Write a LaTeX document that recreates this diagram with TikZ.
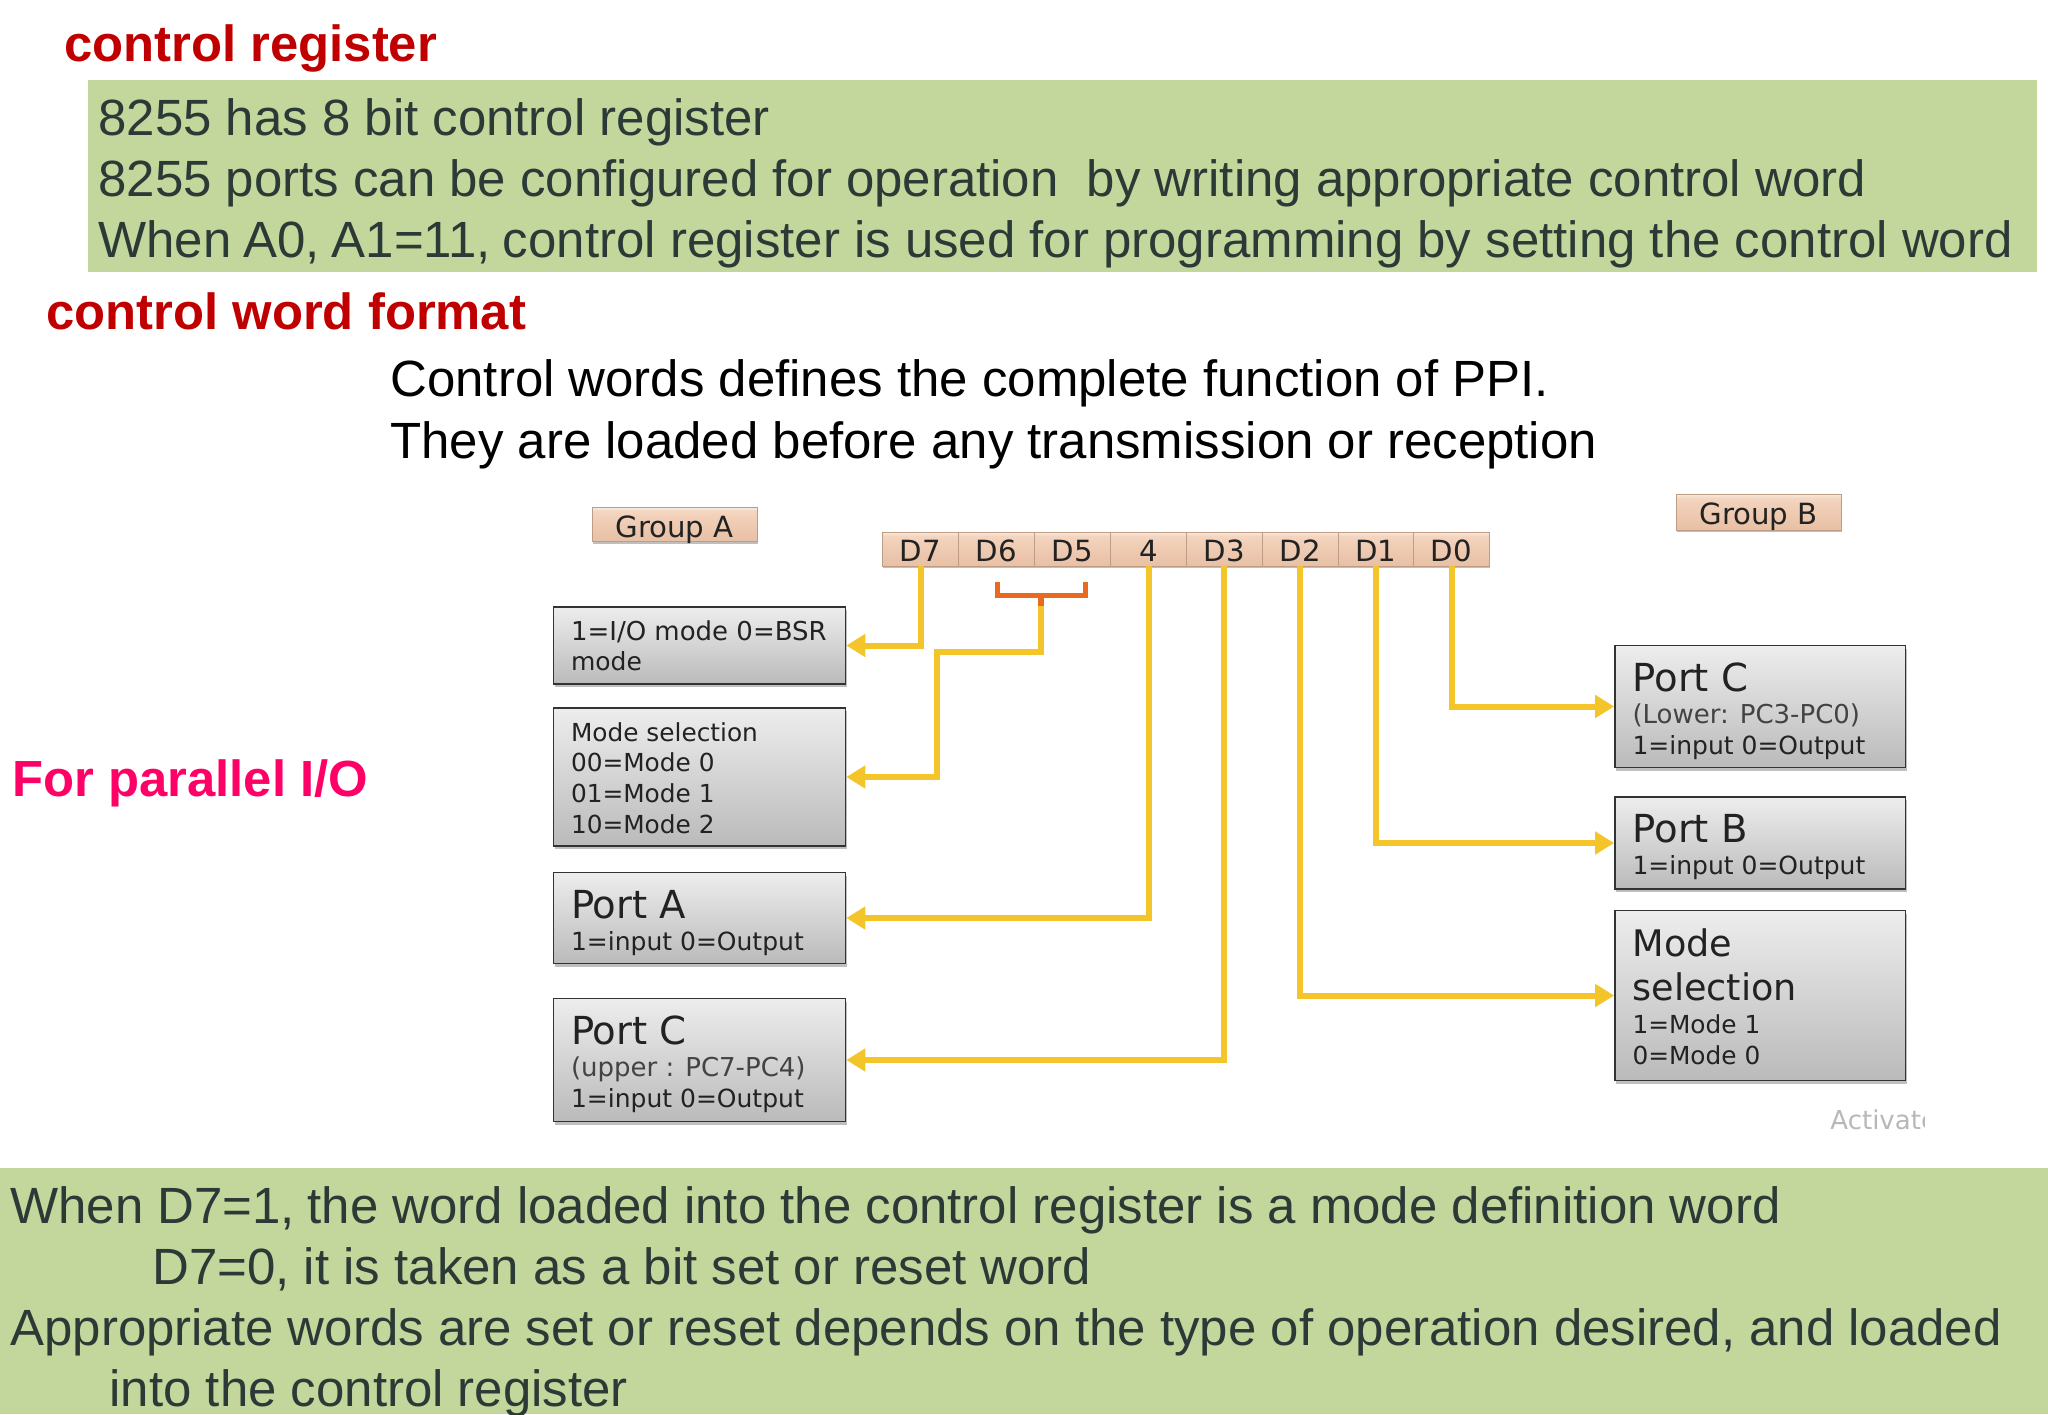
\documentclass[tikz,border=0pt]{standalone}
\usepackage{fontspec}
\setmainfont{Liberation Sans}
\newfontfamily\boxfont{DejaVu Sans}
\usetikzlibrary{arrows.meta,shadows,calc}
\definecolor{bandgreen}{HTML}{C3D69B}
\definecolor{bandtext}{HTML}{2B3A36}
\definecolor{headred}{HTML}{C00000}
\definecolor{pinkhead}{HTML}{FF0066}
\definecolor{wire}{HTML}{F4C52B}
\definecolor{bracket}{HTML}{E9691E}
\definecolor{boxtext}{HTML}{222222}
\definecolor{chipa}{HTML}{E8C0A4}
\definecolor{chipb}{HTML}{F1CFB8}
\definecolor{chipc}{HTML}{F4D6C1}
\definecolor{chipd}{HTML}{F9ECE2}
\pgfdeclareverticalshading{chipshade}{100bp}{color(0bp)=(chipa); color(25bp)=(chipa); color(60bp)=(chipb); color(70bp)=(chipc); color(75bp)=(chipd); color(100bp)=(chipd)}
\newcommand{\bt}[4]{\vbox to #2{\hsize=#1\relax\parindent=0pt\leftskip=8.75pt\rightskip=0pt plus 1fil\lineskiplimit=-100pt\parskip=0pt\boxfont\color{boxtext}\fontsize{12.5pt}{15.4pt}\selectfont\baselineskip=15.4pt\noindent\rule{0pt}{#3}#4\par\vss}}
\newcommand{\bighead}[1]{{\fontsize{19.3pt}{15.4pt}\selectfont #1}}
\newcommand{\midline}[1]{{\fontsize{13pt}{15.4pt}\selectfont\color{boxtext!85!white} #1}}
\newcommand{\sz}[2]{{\fontsize{#1}{15.4pt}\selectfont #2}}
\tikzset{
  x=0.5pt,y=-0.5pt,
  bandbox/.style={fill=bandgreen,draw=none},
  head/.style={anchor=base west,inner sep=0pt,font=\fontsize{25.4pt}{30pt}\selectfont\bfseries,text=headred},
  bandlines/.style={anchor=north west,inner sep=0pt,align=left,text=bandtext,font=\fontsize{25.48pt}{30.6pt}\selectfont},
  plainlines/.style={anchor=north west,inner sep=0pt,align=left,text=black,font=\fontsize{25.48pt}{30.6pt}\selectfont},
  greybox/.style={inner sep=0pt,draw=black!80,line width=0.8pt,top color=black!7,bottom color=black!27,
    drop shadow={shadow xshift=0.5pt,shadow yshift=-1.5pt,opacity=0.25,fill=black}},
  chip/.style={inner sep=0pt,minimum height=17pt,draw=black!18!chipa,line width=0.35pt,shading=chipshade,
    font=\boxfont\fontsize{14.6pt}{16pt}\selectfont,text=boxtext,text height=12.6pt,text depth=0pt,
    drop shadow={shadow xshift=0.3pt,shadow yshift=-1pt,opacity=0.25,fill=black}},
  bitchip/.style={chip,minimum width=37.9pt},
  wireline/.style={draw=wire,line width=3pt,-{Triangle[length=9.5pt,width=11pt]}},
}
\begin{document}
\begin{tikzpicture}
\useasboundingbox (0,0) rectangle (2048,1414);
\path[bandbox] (88,80) rectangle (2037,272);
\path[bandbox] (0,1168) rectangle (2048,1414);

\node[head] (title1) at (64,61) {control register};
\node[head] (title2) at (46,329) {control word format};
\node[head,text=pinkhead] (side) at (12,796) {For parallel I/O};

\node[bandlines] (top) at (98,98) {8255 has 8 bit control register\\8255 ports can be configured for operation\ \ by writing appropriate control word\\When\hspace{-1.1pt} A0,\hspace{-1.1pt} A1=11,\hspace{-1.1pt} control register is used for programming by setting the control word};
\node[plainlines] (mid) at (390,359.5) {Control words defines the complete function of PPI.\\They are loaded before any transmission or reception};
\node[bandlines] (bot) at (10,1186) {When D7=1,\hspace{-0.8pt} the word loaded into the control register is a mode definition word\\\hspace*{71pt}D7=0, it is taken as a bit set or reset word\\Appropriate words are set or reset depends on the type of operation desired, and loaded\\\hspace*{49.6pt}into the control register};

\node[chip,minimum width=82.5pt] (groupA) at (674.5,524.5) {Group A};
\node[chip,minimum width=82.5pt,minimum height=18pt] (groupB) at (1758.5,512) {Group B};

\node[bitchip] (d7) at (920.5,549) {D7};
\node[bitchip] (d6) at (996.5,549) {D6};
\node[bitchip] (d5) at (1072.5,549) {D5};
\node[bitchip] (d4) at (1148.5,549) {4};
\node[bitchip] (d3) at (1224.3,549) {D3};
\node[bitchip] (d2) at (1300.3,549) {D2};
\node[bitchip] (d1) at (1375.8,549) {D1};
\node[bitchip] (d0) at (1451.5,549) {D0};

\node[greybox] (io) at (699.5,645.5) {\bt{146pt}{38.5pt}{16.5pt}{\sz{13pt}{1=I/O mode 0=BSR}\par \sz{12.5pt}{mode}}};
\node[greybox] (modes) at (699.5,777) {\bt{146pt}{69pt}{16.5pt}{\sz{12.4pt}{Mode selection}\par \sz{12.4pt}{00=Mode 0}\par \sz{12.4pt}{01=Mode 1}\par \sz{12.4pt}{10=Mode 2}}};
\node[greybox] (porta) at (699.5,918) {\bt{146pt}{45.5pt}{23pt}{\bighead{Port A}\par\vskip0.8pt 1=input 0=Output}};
\node[greybox] (portcu) at (699.5,1060) {\bt{146pt}{61.5pt}{23pt}{\bighead{Port C}\par\vskip0.8pt\midline{(upper : PC7-PC4)}\par 1=input 0=Output}};
\node[greybox] (portcl) at (1760.3,706.5) {\bt{145.3pt}{61pt}{22.8pt}{\bighead{Port C}\par\vskip1pt\midline{(Lower: PC3-PC0)}\par 1=input 0=Output}};
\node[greybox] (portb) at (1760.3,843) {\bt{145.3pt}{46pt}{22.6pt}{\bighead{Port B}\par\vskip0.8pt 1=input 0=Output}};
\node[greybox] (modesel) at (1760.3,995.5) {\bt{145.3pt}{85pt}{22.8pt}{\sz{18.3pt}{Mode}\par\vskip7pt\sz{18.3pt}{selection}\par\vskip1pt\sz{12.4pt}{1=Mode 1}\par\sz{12.4pt}{0=Mode 0}}};

\coordinate (brl) at (997,582);
\coordinate (brr) at (1085,582);
\coordinate (brbl) at (997,595);
\coordinate (brbr) at (1085,595);
\coordinate (brm) at (1041,595);
\coordinate (brt) at (1041,606);
\coordinate (bend) at (937,652);
\draw[bracket,line width=2.5pt] (brl) -- (brbl) -- (brbr) -- (brr);
\draw[bracket,line width=3pt] (brm) -- (brt);

\draw[wireline] (d7.south) |- (io.east);
\draw[wireline] (brt) |- (bend) |- (modes.east);
\draw[wireline] (d4.south) |- (porta.east);
\draw[wireline] (d3.south) |- (portcu.east);
\draw[wireline] (d0.south) |- (portcl.west);
\draw[wireline] (d1.south) |- (portb.west);
\draw[wireline] (d2.south) |- (modesel.west);

\begin{scope}
\clip (1825,1100) rectangle (1924,1140);
\node[anchor=base west,inner sep=0pt,text=black!28,font=\boxfont\fontsize{13pt}{15pt}\selectfont] (act) at (1830,1129) {Activate};
\end{scope}
\end{tikzpicture}
\end{document}
